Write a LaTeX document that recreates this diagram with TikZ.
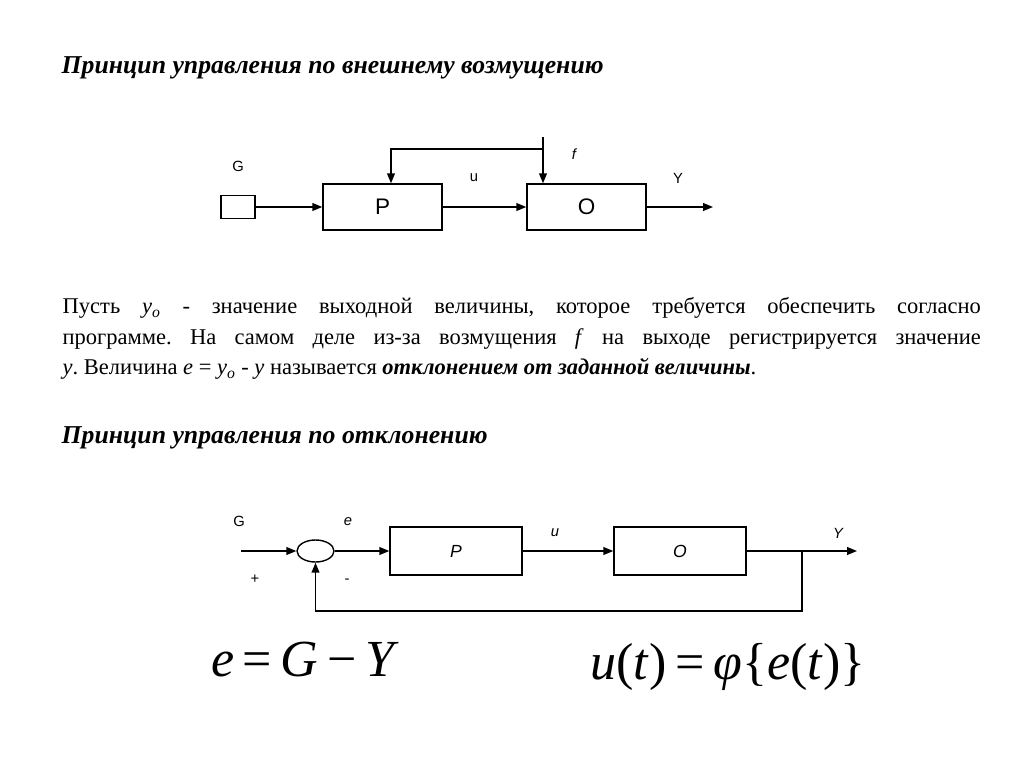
\documentclass[tikz,border=0pt]{standalone}
\usepackage{fontspec}
\setmainfont{Liberation Serif}
\setsansfont{Liberation Sans}
\usetikzlibrary{positioning,arrows.meta,shapes.geometric,calc}

\begin{document}
\begin{tikzpicture}[
  x=0.025cm, y=-0.025cm,
  line width=1pt,
  titulo/.style={font=\bfseries\itshape\fontsize{18.3}{20}\selectfont,
                 anchor=west, inner sep=0pt},
  bloque/.style={draw, minimum width=2.975cm, minimum height=1.15cm,
                 inner sep=0pt, font=\sffamily\fontsize{16}{18}\selectfont},
  bloqueb/.style={draw, minimum width=3.3cm, minimum height=1.2cm,
                  inner sep=0pt, font=\sffamily\itshape\fontsize{12.5}{14}\selectfont},
  sumador/.style={draw, ellipse, minimum width=0.925cm, minimum height=0.55cm,
                  inner sep=0pt},
  rotulo/.style={font=\sffamily\fontsize{10.5}{12}\selectfont, inner sep=0pt},
  rotuloit/.style={rotulo, font=\sffamily\itshape\fontsize{10.5}{12}\selectfont},
  flecha/.style={-{Triangle[length=7pt,width=5.5pt]}},
  formula/.style={font=\fontsize{37}{40}\selectfont, inner sep=0pt},
]
\fill[white] (0,0) rectangle (1024,767);
\useasboundingbox (0,0) rectangle (1024,767);
% --- Primer esquema: por perturbacion ------------------------------------------
\node[titulo] (tit1) at (61,68) {Принцип управления по внешнему возмущению};
\node[draw, minimum width=0.85cm, minimum height=0.575cm, inner sep=0pt]
  (G1) at (238,207) {};
\node[bloque] (P1) at (382.5,207) {P};
\node[bloque] (O1) at (586.5,207) {O};
\coordinate (sal1) at (713,207);
\coordinate (ftop) at (543,137);
\coordinate (fj) at (543,149);
\coordinate (fP) at (391,149);
\draw[flecha] (G1.east) -- (G1.east -| P1.west);
\draw[flecha] (P1.east) -- (O1.west);
\draw[flecha] (O1.east) -- (sal1);
\draw[flecha] (ftop) -- (ftop |- O1.north);
\draw[flecha] (fj) -- (fP) -- (fP |- P1.north);
\node[rotulo] (lG1) at (238,166) {G};
\node[rotulo] (lu1) at (474,178) {u};
\node[rotulo] (lY1) at (678,178) {Y};
\node[rotuloit] (lf1) at (574,154) {f};
% --- Texto --------------------------------------------------------------------
\node[anchor=north west, inner sep=0pt, text width=22.95cm, align=justify,
      font=\fontsize{16}{21.7}\selectfont\frenchspacing] (txt) at (62,297)
  {Пусть \textit{y}\textsubscript{\textit{o}} - значение выходной величины,
   которое требуется обеспечить согласно\linebreak программе. На самом деле
   из-за возмущения \textit{f} на выходе регистрируется значение\linebreak
   \textit{y}. Величина \textit{e} = \textit{y}\textsubscript{\textit{o}} -
   \textit{y} называется \textbf{\textit{отклонением от заданной величины}}.};
% --- Segundo esquema: por desviacion --------------------------------------------
\node[titulo] (tit2) at (61,438) {Принцип управления по отклонению};
\coordinate (ent2) at (241,551);
\node[sumador] (S) at (315.5,551) {};
\node[bloqueb] (P2) at (456,551) {P};
\node[bloqueb] (O2) at (680,551) {O};
\coordinate (sal2) at (857,551);
\coordinate (rama) at (802,551);
\coordinate (abajo) at (802,611);
\draw[flecha] (ent2) -- (S.west);
\draw[flecha] (S.east) -- (P2.west);
\draw[flecha] (P2.east) -- (O2.west);
\draw[flecha] (O2.east) -- (sal2);
\draw[flecha] (rama) -- (abajo) -- (abajo -| S.south) -- (S.south);
\node[rotulo] (lG2) at (239,521) {G};
\node[rotuloit] (le2) at (348,522) {e};
\node[rotulo] (lmas) at (255,579) {+};
\node[rotulo] (lmenos) at (347,581) {-};
\node[rotuloit] (lu2) at (555,533) {u};
\node[rotuloit] (lY2) at (838,533) {Y};
% --- Formulas --------------------------------------------------------------------
\node[formula] (ec1) at (305,660) {\textit{e}\,=\,\textit{G}\,−\,\textit{Y}};
\node[formula] (ec2) at (728,667) {\textit{u}(\textit{t})\,=\,\textit{φ}\{\textit{e}(\textit{t})\}};
\end{tikzpicture}
\end{document}
